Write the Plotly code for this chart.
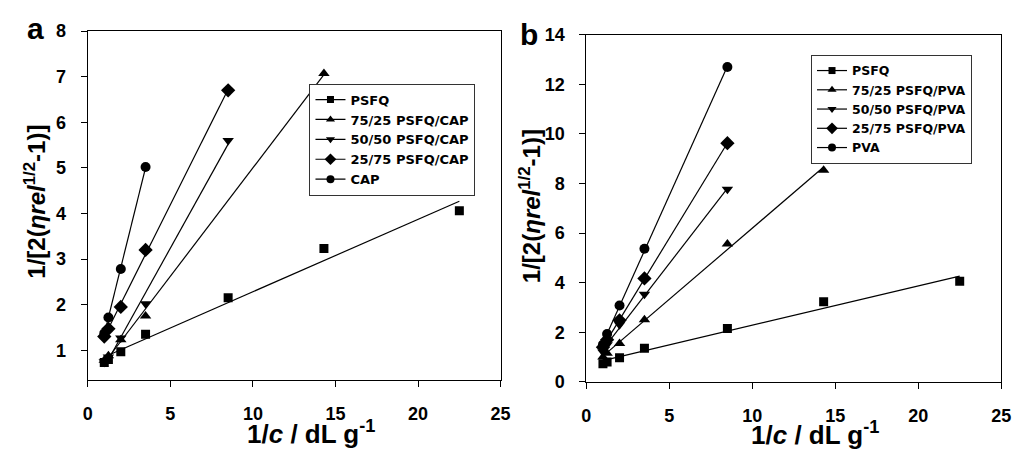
import numpy as np
import plotly.graph_objects as go

# ---------------- data ----------------
inv_c = [1.0, 1.25, 2.0, 3.5, 8.5, 14.3, 22.5]

psfq = [0.73, 0.80, 0.97, 1.35, 2.15, 3.23, 4.06]

# panel a (CAP blends)
cap_names = ["PSFQ", "75/25 PSFQ/CAP", "50/50 PSFQ/CAP", "25/75 PSFQ/CAP", "CAP"]
cap_x = [inv_c,
         [1.0, 1.25, 2.0, 3.5, 14.3],
         [1.0, 1.25, 2.0, 3.5, 8.5],
         [1.0, 1.25, 2.0, 3.5, 8.5],
         [1.0, 1.25, 2.0, 3.5]]
cap_y = [psfq,
         [0.78, 0.88, 1.23, 1.75, 7.07],
         [0.75, 0.85, 1.27, 2.02, 5.60],
         [1.30, 1.47, 1.95, 3.20, 6.70],
         [1.37, 1.72, 2.78, 5.02]]

# panel b (PVA blends)
pva_names = ["PSFQ", "75/25 PSFQ/PVA", "50/50 PSFQ/PVA", "25/75 PSFQ/PVA", "PVA"]
pva_x = [inv_c,
         [1.0, 1.25, 2.0, 3.5, 8.5, 14.3],
         [1.0, 1.25, 2.0, 3.5, 8.5],
         [1.0, 1.25, 2.0, 3.5, 8.5],
         [1.0, 1.25, 2.0, 3.5, 8.5]]
pva_y = [psfq,
         [1.00, 1.15, 1.55, 2.50, 5.56, 8.54],
         [1.20, 1.50, 2.30, 3.53, 7.77],
         [1.40, 1.70, 2.48, 4.17, 9.63],
         [1.50, 1.93, 3.08, 5.37, 12.70]]

symbols = ["square", "triangle-up", "triangle-down", "diamond", "circle"]
msizes = [9, 10, 10, 11, 10]

FONT = "Liberation Sans, Arial, sans-serif"
LFONT = "DejaVu Sans, sans-serif"

fig = go.Figure()

def add_panel(names, xs, ys, xa, ya, legend):
    for name, x, y, sym, ms in zip(names, xs, ys, symbols, msizes):
        xv = np.array(x, dtype=float)
        yv = np.array(y, dtype=float)
        k, b0 = np.polyfit(xv, yv, 1)
        xl = np.array([xv.min(), xv.max()])
        fig.add_trace(go.Scatter(x=xl, y=k * xl + b0, mode="lines",
                                 line=dict(color="black", width=1.2),
                                 xaxis=xa, yaxis=ya, showlegend=False,
                                 hoverinfo="skip"))
        fig.add_trace(go.Scatter(x=xv, y=yv, mode="markers",
                                 marker=dict(symbol=sym, size=ms, color="black"),
                                 xaxis=xa, yaxis=ya, showlegend=False, name=name))
        fig.add_trace(go.Scatter(x=[None], y=[None], mode="lines+markers",
                                 line=dict(color="black", width=1.2),
                                 marker=dict(symbol=sym, size=ms - 2, color="black"),
                                 xaxis=xa, yaxis=ya, name=name, legend=legend,
                                 showlegend=True))

add_panel(cap_names, cap_x, cap_y, "x", "y", "legend")
add_panel(pva_names, pva_x, pva_y, "x2", "y2", "legend2")

axis_common = dict(showline=True, linecolor="black", linewidth=1.2, mirror=True,
                   ticks="outside", ticklen=6, tickcolor="black", tickwidth=1.2,
                   showgrid=False, zeroline=False,
                   tickfont=dict(family=FONT, size=18, color="black", weight="bold"))

W, H = 1024, 453
legend_common = dict(xanchor="left", yanchor="top",
                     bgcolor="white", bordercolor="#333", borderwidth=1,
                     itemwidth=30, tracegroupgap=0)
fig.update_layout(
    width=W, height=H, margin=dict(l=0, r=0, t=0, b=0),
    paper_bgcolor="white", plot_bgcolor="white",
    font=dict(family=FONT, color="black"),
    xaxis=dict(domain=[84 / W, 503 / W], range=[0, 25], dtick=5, anchor="y",
               ticklabelstandoff=11, **axis_common),
    yaxis=dict(domain=[1 - 387 / H, 1 - 22 / H], range=[0.35, 8], dtick=1, anchor="x",
               tick0=0, ticklabelstandoff=11, **axis_common),
    xaxis2=dict(domain=[590 / W, 1011 / W], range=[0, 25], dtick=5, anchor="y2",
                ticklabelstandoff=11, **axis_common),
    yaxis2=dict(domain=[1 - 389 / H, 1 - 26 / H], range=[0, 14], dtick=2, anchor="x2",
                ticklabelstandoff=11, **axis_common),
    legend=dict(x=309 / W, y=1 - 77 / H,
                font=dict(family=LFONT, size=13, color="black", weight="bold"),
                **legend_common),
    legend2=dict(x=818 / W, y=1 - 47 / H,
                 font=dict(family=LFONT, size=12.5, color="black", weight="bold"),
                 **legend_common),
)

ytitle = "1/[2(<i>ηrel</i><sup>1/2</sup>-1)]"
xtitle = "1/<i>c</i> / dL g<sup>-1</sup>"
tfont = dict(family=FONT, size=26, color="black", weight="bold")
yfont = dict(family=FONT, size=24, color="black", weight="bold")
pfont = dict(family=FONT, size=30, color="black", weight="bold")
ann = [
    dict(text=ytitle, x=31 / W, y=1 - 201 / H, textangle=-90, font=yfont),
    dict(text=ytitle, x=533 / W, y=1 - 205 / H, textangle=-90, font=yfont),
    dict(text=xtitle, x=311 / W, y=1 - 442 / H, font=tfont),
    dict(text=xtitle, x=822 / W, y=1 - 443 / H, font=tfont),
    dict(text="a", x=31 / W, y=1 - 19 / H, font=pfont),
    dict(text="b", x=532 / W, y=1 - 26 / H, font=pfont),
]
for a in ann:
    fig.add_annotation(xref="paper", yref="paper", showarrow=False,
                       xanchor="center", yanchor="middle", **a)

fig.write_html("out.html")
